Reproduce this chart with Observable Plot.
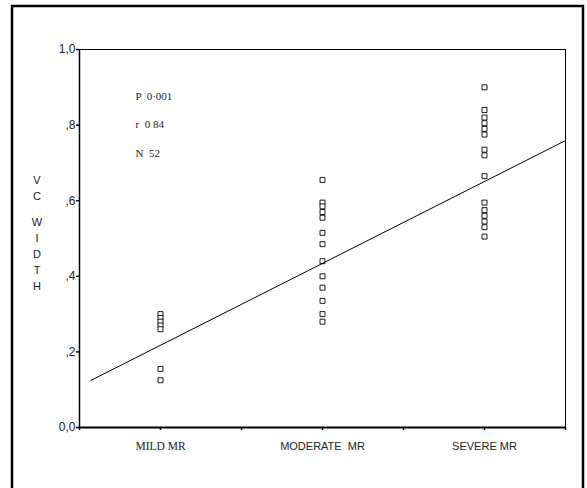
<!DOCTYPE html>
<html>
<head>
<meta charset="utf-8">
<script src="https://cdn.jsdelivr.net/npm/d3@7"></script>
<script src="https://cdn.jsdelivr.net/npm/@observablehq/plot@0.6"></script>
<style>
  html, body { margin: 0; padding: 0; background: #fff; }
  #chart { position: relative; width: 587px; height: 488px; }
</style>
</head>
<body>
<div id="chart"></div>
<script>
// Categories (positions 1, 2, 3 on the x axis)
const categories = ["MILD MR", "MODERATE  MR", "SEVERE MR"];
const categoryPos = [1, 2, 3];

// VC width values
const mildValues = [0.30, 0.29, 0.28, 0.27, 0.26, 0.155, 0.125];
const moderateValues = [0.655, 0.595, 0.585, 0.57, 0.555, 0.515, 0.485, 0.44, 0.40, 0.37, 0.335, 0.30, 0.28];
const severeValues = [0.90, 0.84, 0.82, 0.805, 0.79, 0.775, 0.735, 0.72, 0.665, 0.595, 0.575, 0.56, 0.545, 0.53, 0.505];

// Regression line: intercept, slope, x extent
const fitIntercept = 0.001;
const fitSlope = 0.2166;
const fitXStart = 0.57;
const fitXEnd = 3.5;

// Axis ticks
const yTicks = [0, 0.2, 0.4, 0.6, 0.8, 1.0];
const yTickLabels = ["0,0", ",2", ",4", ",6", ",8", "1,0"];
const xTicks = [0.5, 1, 1.5, 2, 2.5, 3, 3.5];

// Stats text
const statsLines = ["P  0·001", "r  0 84", "N  52"];
const yTitleLetters = ["V", "C", "", "W", "I", "D", "T", "H"];

const points = [];
[mildValues, moderateValues, severeValues].forEach((vals, i) => {
  vals.forEach(v => points.push({x: categoryPos[i], y: v}));
});
const fitLine = [fitXStart, fitXEnd].map(x => ({x, y: fitIntercept + fitSlope * x}));
const catData = categories.map((c, i) => ({x: categoryPos[i], label: c, serif: i === 0}));

const W = 587, H = 488;
const mL = 79, mR = 22, mT = 49, mB = 61;

const chart = Plot.plot({
  width: W,
  height: H,
  marginLeft: mL,
  marginRight: mR,
  marginTop: mT,
  marginBottom: mB,
  style: {background: "#fff", color: "#000", fontFamily: "'Liberation Sans', Arial, sans-serif", fontSize: "11px"},
  x: {type: "linear", domain: [0.5, 3.5], axis: null, label: null},
  y: {type: "linear", domain: [0, 1], axis: null, label: null},
  marks: [
    Plot.frame({stroke: "#000", strokeWidth: 1}),
    // y axis ticks and labels
    Plot.axisY({ticks: yTicks, tickSize: 3, tickPadding: 1, label: null,
      tickFormat: d => yTickLabels[yTicks.indexOf(d)],
      fontSize: 12, stroke: "#000", strokeWidth: 1.5, fill: "#222"}),
    // x axis ticks
    Plot.axisX({ticks: xTicks, tickSize: 3, label: null, tickFormat: () => "", stroke: "#000", strokeWidth: 1.5}),
    Plot.ruleY([0], {stroke: "#000", strokeWidth: 2}),
    Plot.ruleX([0.5], {stroke: "#000", strokeWidth: 1.5}),
    // category labels
    Plot.text(catData.filter(d => d.serif), {x: "x", y: 0, dy: 19, text: "label", fontSize: 11.5,
      fontFamily: "'Liberation Serif', serif", fill: "#222"}),
    Plot.text(catData.filter(d => !d.serif), {x: "x", y: 0, dy: 19, text: "label", fontSize: 11,
      fontFamily: "'Liberation Sans', sans-serif", fill: "#222"}),
    // points
    Plot.dot(points, {x: "x", y: "y", symbol: "square", r: 2.8, stroke: "#000", strokeWidth: 0.9, fill: "#fff"}),
    // regression line
    Plot.line(fitLine, {x: "x", y: "y", stroke: "#000", strokeWidth: 1}),
    // stats text
    Plot.text([statsLines.join("\n")], {frameAnchor: "top-left", dx: 56, dy: 41 - 11, text: d => d,
      textAnchor: "start", lineAnchor: "top", lineHeight: 2.6,
      fontFamily: "'Liberation Serif', serif", fontSize: 11, fill: "#222"})
  ]
});

const svg = d3.select(chart);
// Vertical y-axis title letters
const letterY = [180, 196, 0, 222, 238, 254, 270, 286];
yTitleLetters.forEach((ch, i) => {
  if (!ch) return;
  svg.append("text").attr("x", 37).attr("y", letterY[i]).attr("dy", "0.35em")
    .attr("text-anchor", "middle").attr("font-size", 11)
    .attr("font-family", "'Liberation Sans', sans-serif").attr("fill", "#222").text(ch);
});
// Outer border
svg.append("path").attr("d", `M12,${H + 5} L12,6 L583,6 L583,${H + 5}`)
  .attr("fill", "none").attr("stroke", "#000").attr("stroke-width", 2.5);

document.getElementById("chart").appendChild(chart);
</script>
</body>
</html>
